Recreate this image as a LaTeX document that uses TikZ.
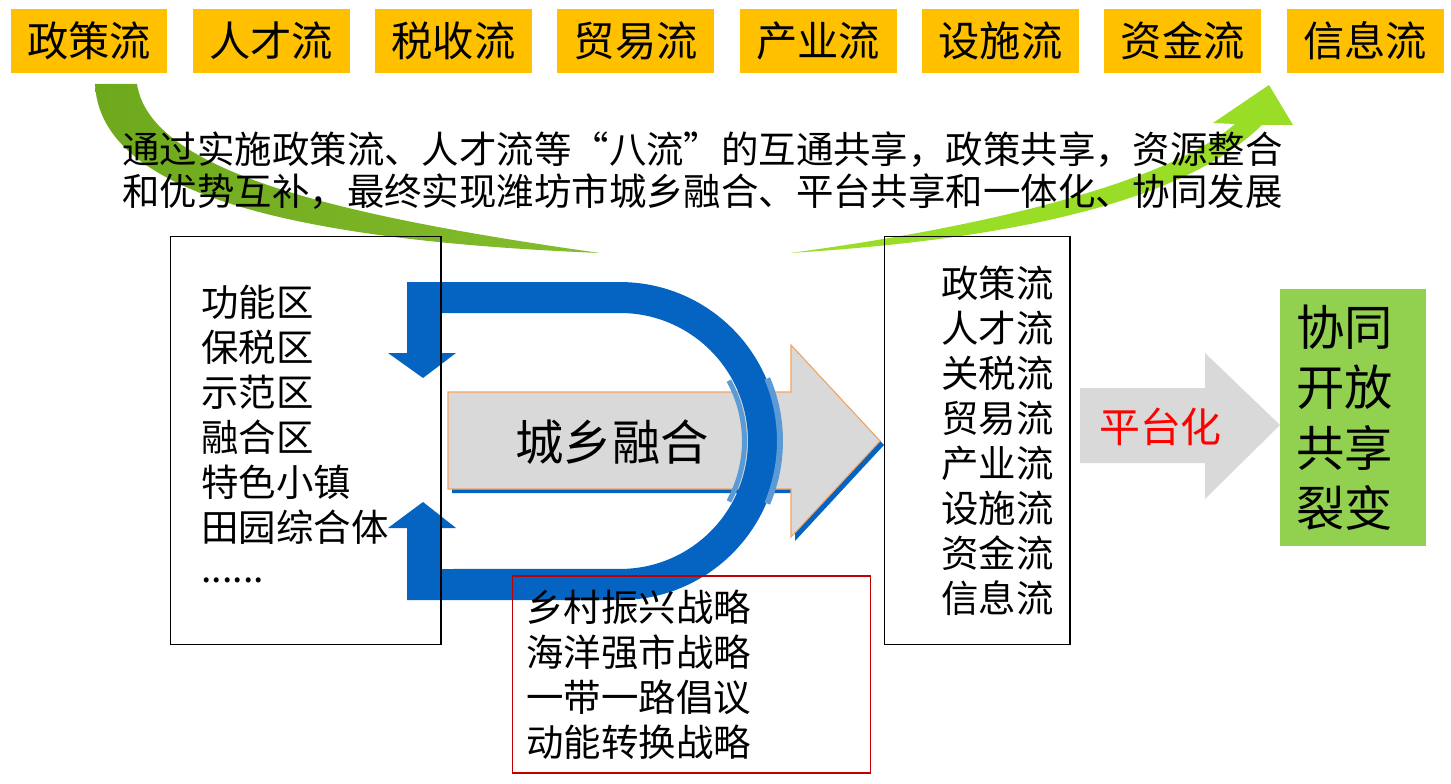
\documentclass[tikz,border=0pt]{standalone}
\usepackage{fontspec}
\setmainfont{Noto Sans CJK SC}
\usetikzlibrary{%
  arrows,%
  shapes,%
  positioning,% wg. " of "
  calc%
}
\XeTeXlinebreaklocale "zh"
\XeTeXlinebreakskip=0pt plus 1pt

\definecolor{flowgold}{RGB}{255,192,0}
\definecolor{dblue}{RGB}{5,99,193}
\definecolor{lblue}{RGB}{91,155,213}
\definecolor{leafdark}{RGB}{110,168,28}
\definecolor{leaflight}{RGB}{132,190,46}
\definecolor{limegreen}{RGB}{154,221,38}
\definecolor{boxgreen}{RGB}{146,208,80}
\definecolor{arrowgrey}{RGB}{217,217,217}
\definecolor{arroworange}{RGB}{244,164,96}
\definecolor{redline}{RGB}{192,0,0}

\begin{document}
\begin{tikzpicture}
  [
  x=0.02cm, y=0.02cm,
  line width=0.6pt,
  flowbox/.style={rectangle, fill=flowgold, inner sep=0pt, minimum width=3.14cm, minimum height=1.27cm, font=\fontsize{23.5}{28}\selectfont},
  listbox/.style={rectangle, draw=black, inner sep=0pt},
  listtext/.style={anchor=west, inner sep=0pt, font=\fontsize{21.3}{25.6}\selectfont},
  bigtext/.style={inner sep=0pt, font=\fontsize{27.5}{33}\selectfont},
  ]

  \useasboundingbox (0,0) rectangle (1451,-784);

  % the eight flows
  \foreach \t [count=\i] in {政策流,人才流,税收流,贸易流,产业流,设施流,资金流,信息流} {
    \node[flowbox] (flow\i) at (89+182.3*\i-182.3,-41) {\t};
  }

  % green swooshes
  \path[left color=leafdark, right color=leaflight] (95,-84) .. controls (100,-190) and (280,-240) .. (600,-253)
    .. controls (330,-215) and (150,-170) .. (137,-84) -- cycle;
  \fill[limegreen] (790,-253) .. controls (1000,-240) and (1180,-205) .. (1262,-125) -- (1293,-125) -- (1269,-85)
    -- (1213,-123) -- (1235,-124) .. controls (1170,-180) and (1000,-225) .. (790,-253) -- cycle;

  \node[anchor=west, inner sep=0pt, font=\fontsize{21.3}{25.6}\selectfont] (goal1) at (122,-150)
    {\makebox[23.3cm][s]{通过实施政策流、人才流等“八流”的互通共享，政策共享，资源整合}};
  \node[anchor=west, inner sep=0pt, font=\fontsize{21.3}{25.6}\selectfont] (goal2) at (122,-192)
    {\makebox[23.3cm][s]{和优势互补，最终实现潍坊市城乡融合、平台共享和一体化、协同发展}};

  % big grey arrow with its blue shadow
  \fill[dblue, shift={(4,-4)}] (448,-392) -- (791,-392) -- (791,-345) -- (880,-441) -- (791,-537) -- (791,-489) -- (448,-489) -- cycle;
  \draw[draw=arroworange, fill=arrowgrey] (448,-392) -- (791,-392) -- (791,-345) -- (880,-441) -- (791,-537) -- (791,-489) -- (448,-489) -- cycle;
  \node[bigtext] (fusion) at (612,-442) {城乡融合};

  % blue u-turn
  \fill[dblue] (423,-378) -- (456,-353) -- (440,-353) -- (440,-313) -- (620,-313)
    arc[start angle=90, end angle=-90, radius=2.56cm] -- (440,-569) -- (440,-528) -- (456,-528)
    -- (423,-502) -- (388,-528) -- (407,-528) -- (407,-600) -- (620,-600)
    arc[start angle=-90, end angle=90, radius=3.18cm] -- (407,-282) -- (407,-353) -- (388,-353) -- cycle;
  \draw[lblue, line width=0.1cm] ([shift={(29:2.49cm)}]620,-441) arc[start angle=29, end angle=-29, radius=2.49cm];
  \draw[lblue, line width=0.12cm] ([shift={(23:3.2cm)}]620,-441) arc[start angle=23, end angle=-23, radius=3.2cm];

  % left list
  \node[listbox, minimum width=5.42cm, minimum height=8.18cm] (zonebox) at (305.5,-440.5) {};
  \foreach \t [count=\i] in {功能区,保税区,示范区,融合区,特色小镇,田园综合体} {
    \node[listtext] (zone\i) at (201,-302-45*\i+45) {\t};
  }
  \node[listtext] (zone7) at (201,-580) {......};

  % right list
  \node[listbox, minimum width=3.72cm, minimum height=8.18cm] (flowlist) at (977,-440.5) {};
  \foreach \t [count=\i] in {政策流,人才流,关税流,贸易流,产业流,设施流,资金流,信息流} {
    \node[listtext] (item\i) at (941,-283-45*\i+45) {\t};
  }

  % strategies
  \node[listbox, draw=redline, minimum width=7.18cm, minimum height=3.94cm] (stratbox) at (691.5,-674.5) {};
  \foreach \t [count=\i] in {乡村振兴战略,海洋强市战略,一带一路倡议,动能转换战略} {
    \node[listtext] (strat\i) at (526,-607-45*\i+45) {\t};
  }

  % platform arrow and result
  \fill[arrowgrey] (1080,-388) -- (1205,-388) -- (1205,-353) -- (1280,-425) -- (1205,-499) -- (1205,-463) -- (1080,-463) -- cycle;
  \node[inner sep=0pt, text=red, font=\fontsize{23.3}{28}\selectfont] (platform) at (1160.5,-427) {平台化};

  \node[rectangle, fill=boxgreen, inner sep=0pt, minimum width=2.92cm, minimum height=5.14cm] (result) at (1353,-417.5) {};
  \foreach \t [count=\i] in {协同,开放,共享,裂变} {
    \node[bigtext, anchor=west] (res\i) at (1296,-327-60.3*\i+60.3) {\t};
  }

\end{tikzpicture}
\end{document}
